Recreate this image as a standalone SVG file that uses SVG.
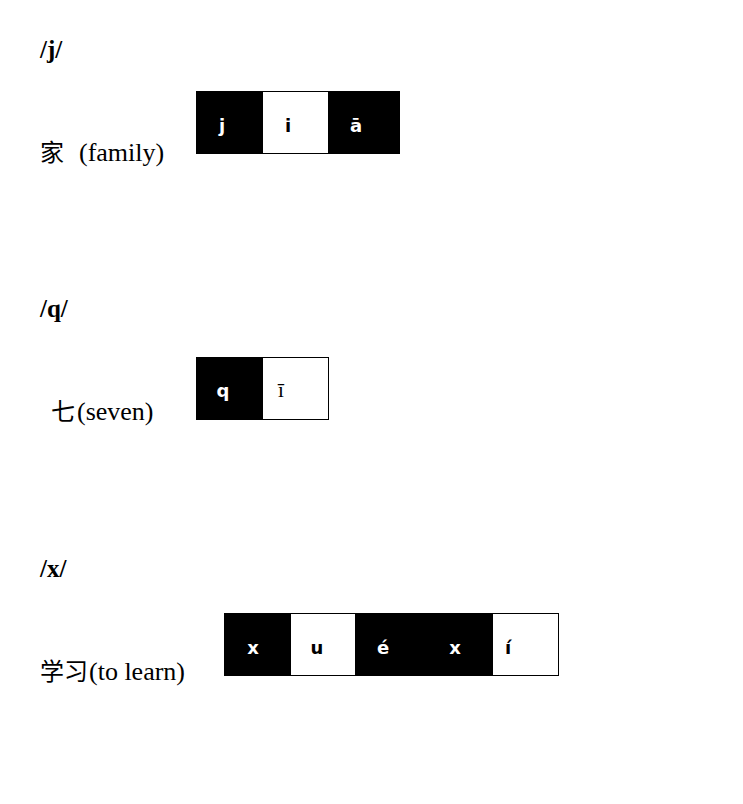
<svg xmlns="http://www.w3.org/2000/svg" width="743" height="804" viewBox="0 0 743 804">
<style>
.h{font-family:"Liberation Serif","Noto Sans CJK SC",serif;font-weight:bold;font-size:25px;fill:#000}
.lbl{font-family:"Liberation Serif","Noto Sans CJK SC",serif;font-size:26px;fill:#000}
.cjk{font-family:"Noto Sans CJK SC",sans-serif;font-size:24px;fill:#000}
.blk{fill:#000;stroke:#000;stroke-width:1}
.wht{fill:#fff;stroke:#000;stroke-width:1}
.pw{font-family:"DejaVu Sans",sans-serif;font-weight:bold;font-size:18px;fill:#fff;text-anchor:middle}
.pb{font-family:"DejaVu Sans",sans-serif;font-weight:bold;font-size:18px;fill:#000;text-anchor:middle}
.ps{font-family:"Liberation Serif",serif;font-size:21px;fill:#000;text-anchor:middle}
</style>
<rect width="743" height="804" fill="#fff"/>
<g id="section-j">
<text class="h" x="40" y="58">/j/</text>
<text class="cjk" x="40" y="161">家</text>
<text class="lbl" x="79" y="161">(family)</text>
<g id="box-jia">
<rect class="blk" x="196.5" y="91.5" width="66" height="62"/>
<rect class="wht" x="262.5" y="91.5" width="66" height="62"/>
<rect class="blk" x="328.5" y="91.5" width="71" height="62"/>
<text class="pw" x="222" y="132">j</text>
<text class="pb" x="288" y="132">i</text>
<text class="pw" x="356" y="132">ā</text>
</g>
</g>
<g id="section-q">
<text class="h" x="40" y="317">/q/</text>
<text class="cjk" x="51" y="420">七</text>
<text class="lbl" x="77" y="420">(seven)</text>
<g id="box-qi">
<rect class="blk" x="196.5" y="357.5" width="66" height="62"/>
<rect class="wht" x="262.5" y="357.5" width="66" height="62"/>
<text class="pw" x="223" y="397">q</text>
<text class="ps" x="281" y="397">ī</text>
</g>
</g>
<g id="section-x">
<text class="h" x="40" y="577">/x/</text>
<text class="cjk" x="40" y="680">学习</text>
<text class="lbl" x="89" y="680">(to learn)</text>
<g id="box-xuexi">
<rect class="blk" x="224.5" y="613.5" width="66" height="62"/>
<rect class="wht" x="290.5" y="613.5" width="65" height="62"/>
<rect class="blk" x="355.5" y="613.5" width="137" height="62"/>
<rect class="wht" x="492.5" y="613.5" width="66" height="62"/>
<text class="pw" x="253" y="654">x</text>
<text class="pb" x="317" y="654">u</text>
<text class="pw" x="383" y="654">é</text>
<text class="pw" x="455" y="654">x</text>
<text class="pb" x="508" y="654">í</text>
</g>
</g>
</svg>
